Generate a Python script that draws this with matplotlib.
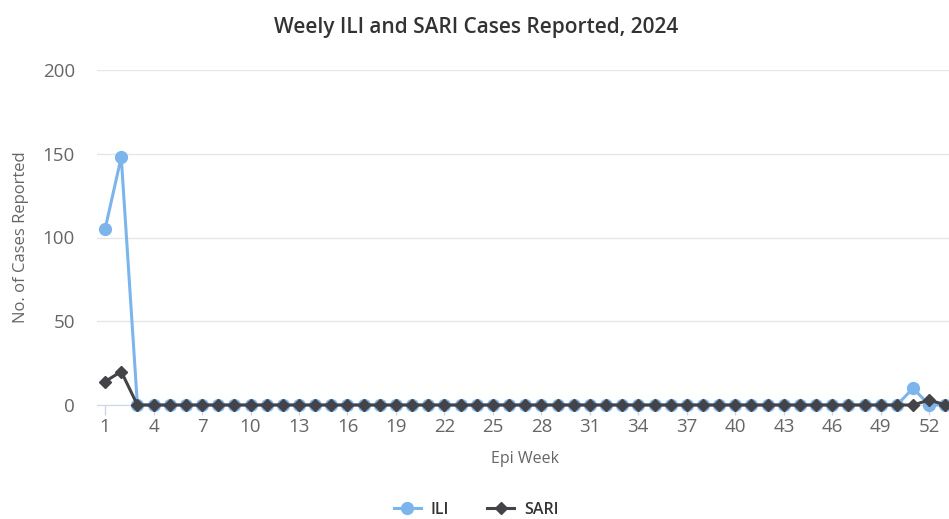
import matplotlib
matplotlib.use("Agg")
import matplotlib.pyplot as plt
from matplotlib.lines import Line2D

plt.rcParams['font.family'] = ['Open Sans', 'DejaVu Sans']

# Weekly counts, epi weeks 1..53
weeks = list(range(1, 54))
ili = [105, 148] + [0] * 48 + [10, 0, 0]
sari = [14, 20] + [0] * 49 + [3, 0]
tick_weeks = list(range(1, 54, 3))
y_ticks = [0, 50, 100, 150, 200]

ILI_COLOR = '#7cb5ec'
SARI_COLOR = '#434348'

fig = plt.figure(figsize=(9.49, 5.19), dpi=100)
ax = fig.add_axes([97 / 949, 114 / 519, 856.5 / 949, 335 / 519])

ax.plot(weeks, ili, color=ILI_COLOR, linewidth=2.2, marker='o', markersize=8.5,
        zorder=3, clip_on=False)
ax.plot(weeks, sari, color=SARI_COLOR, linewidth=2.2, marker='D', markersize=6.5,
        zorder=4, clip_on=False)

ax.set_xlim(0.5, 53.5)
ax.set_ylim(0, 200)
ax.set_yticks(y_ticks)
ax.set_xticks(tick_weeks)

ax.grid(axis='y', color='#e6e6e6', linewidth=1)
ax.set_axisbelow(True)
for side in ['top', 'right', 'left']:
    ax.spines[side].set_visible(False)
ax.spines['bottom'].set_color('#ccd6eb')
ax.spines['bottom'].set_zorder(1)

ax.tick_params(axis='y', length=0, pad=16, labelsize=13.5, labelcolor='#666666')
ax.tick_params(axis='x', length=7.5, width=1, color='#ccd6eb', pad=2,
               labelsize=13.5, labelcolor='#666666')

ax.set_xlabel('Epi Week', fontsize=11.5, color='#666666', labelpad=11)
ax.set_ylabel('No. of Cases Reported', fontsize=12, color='#666666', labelpad=10)

fig.text(476 / 949, 1 - 27 / 519, 'Weely ILI and SARI Cases Reported, 2024',
         ha='center', va='center', fontsize=15, fontweight='semibold', color='#333333')

handles = [
    Line2D([], [], color=ILI_COLOR, linewidth=2.2, marker='o', markersize=8.5),
    Line2D([], [], color=SARI_COLOR, linewidth=2.2, marker='D', markersize=6.5),
]
leg = fig.legend(handles, ['ILI', 'SARI'], loc='center', bbox_to_anchor=(476 / 949, 1 - 510 / 519),
                 ncol=2, frameon=False, handlelength=1.7, handletextpad=0.6,
                 columnspacing=2.4, prop={'size': 11.5, 'weight': 'semibold'})
for t in leg.get_texts():
    t.set_color('#333333')

fig.savefig('out.png', dpi=100)
